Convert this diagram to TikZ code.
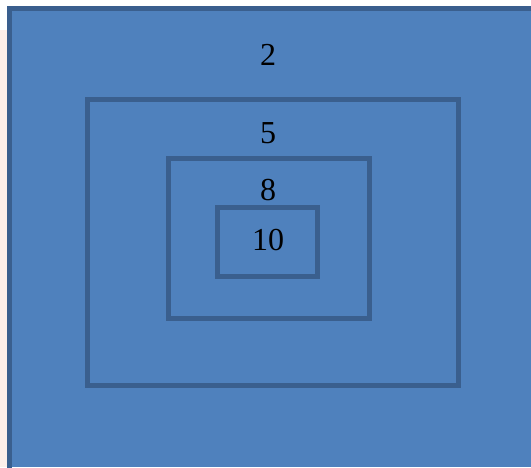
\documentclass[tikz,border=0pt]{standalone}
\usepackage{fontspec}
\setmainfont{Liberation Serif}
\definecolor{fillblue}{HTML}{4F81BD}
\definecolor{edgeblue}{HTML}{3A5F8E}
\definecolor{pinkstrip}{HTML}{FDEFEA}
\begin{document}
\begin{tikzpicture}[x=1pt,y=-1pt,
  box/.style={draw=edgeblue,line width=5pt},
  lbl/.style={font=\fontsize{32}{32}\selectfont,text=black,inner sep=0pt}]
\useasboundingbox (0,0) rectangle (531,467);
\fill[white] (0,0) rectangle (531,467);
\fill[pinkstrip] (0,30) rectangle (8,467);
\fill[fillblue] (7,6) rectangle (531,467);
\draw[edgeblue,line width=5pt] (9.5,470) -- (9.5,8.5) -- (535,8.5);
\draw[box] (87.5,99.5) rectangle (458.5,385.5);
\draw[box] (168.5,158.5) rectangle (369,318);
\draw[box] (217.5,207.5) rectangle (317.5,276.5);
\node[lbl] (t2) at (268,55) {2};
\node[lbl] (t5) at (268,133) {5};
\node[lbl] (t8) at (268,190) {8};
\node[lbl] (t10) at (268,240) {10};
\end{tikzpicture}
\end{document}
